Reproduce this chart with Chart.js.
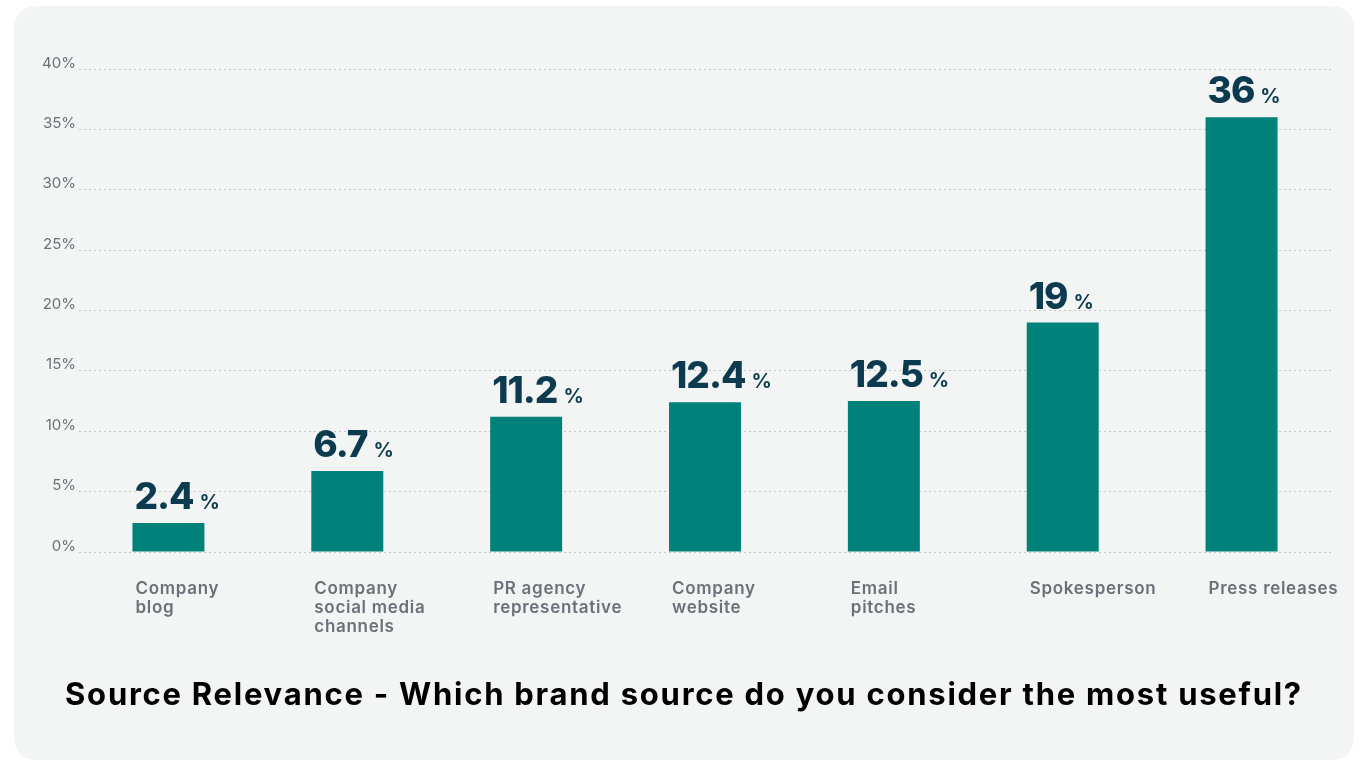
<!DOCTYPE html>
<html>
<head>
<meta charset="utf-8">
<script src="https://cdn.jsdelivr.net/npm/chart.js@4.4.1/dist/chart.umd.min.js"></script>
<style>
  html, body { margin: 0; padding: 0; background: #ffffff; }
  #wrap { width: 1363px; height: 761px; position: relative; }
</style>
</head>
<body>
<div id="wrap"><canvas id="c"></canvas></div>
<script>
const categories = [
  ['Company', 'blog'],
  ['Company', 'social media', 'channels'],
  ['PR agency', 'representative'],
  ['Company', 'website'],
  ['Email', 'pitches'],
  ['Spokesperson'],
  ['Press releases']
];
const values = [2.4, 6.7, 11.2, 12.4, 12.5, 19, 36];
const valueLabels = ['2.4', '6.7', '11.2', '12.4', '12.5', '19', '36'];
const yTicks = [0, 5, 10, 15, 20, 25, 30, 35, 40];
const titleText = 'Source Relevance - Which brand source do you consider the most useful?';

const FONT = 'Inter, "Open Sans", "DejaVu Sans", sans-serif';

const panelPlugin = {
  id: 'panel',
  beforeDraw(chart) {
    const ctx = chart.ctx;
    ctx.save();
    ctx.fillStyle = '#f3f5f4';
    const x = 14, y = 6, w = 1340, h = 754, r = 24;
    ctx.beginPath();
    ctx.moveTo(x + r, y);
    ctx.lineTo(x + w - r, y);
    ctx.quadraticCurveTo(x + w, y, x + w, y + r);
    ctx.lineTo(x + w, y + h - r);
    ctx.quadraticCurveTo(x + w, y + h, x + w - r, y + h);
    ctx.lineTo(x + r, y + h);
    ctx.quadraticCurveTo(x, y + h, x, y + h - r);
    ctx.lineTo(x, y + r);
    ctx.quadraticCurveTo(x, y, x + r, y);
    ctx.closePath();
    ctx.fill();
    ctx.restore();
  }
};

const labelsPlugin = {
  id: 'customLabels',
  afterDatasetsDraw(chart) {
    const ctx = chart.ctx;
    const meta = chart.getDatasetMeta(0);
    ctx.save();
    meta.data.forEach((bar, i) => {
      const left = bar.x - bar.width / 2;
      // value label
      ctx.textBaseline = 'alphabetic';
      ctx.textAlign = 'left';
      ctx.fillStyle = '#0c3b50';
      ctx.font = '800 37px ' + FONT;
      ctx.letterSpacing = '-1px';
      const txt = valueLabels[i];
      const tx = left + 2;
      const ty = bar.y - 14;
      ctx.fillText(txt, tx, ty);
      const w = ctx.measureText(txt).width;
      ctx.font = '700 20px ' + FONT;
      ctx.letterSpacing = '0px';
      ctx.fillText('%', tx + w + 6, ty);
      // category label
      ctx.fillStyle = '#6b7079';
      ctx.font = '600 17px ' + FONT;
      ctx.letterSpacing = '0.7px';
      const lines = categories[i];
      const baseY = chart.scales.y.getPixelForValue(0) + 42;
      lines.forEach((ln, k) => {
        ctx.fillText(ln, left + 3, baseY + k * 19);
      });
    });
    // title
    ctx.fillStyle = '#000000';
    ctx.textAlign = 'center';
    ctx.font = '700 31px ' + FONT;
    ctx.letterSpacing = '1.75px';
    ctx.fillText(titleText, 684, 705);
    ctx.restore();
  }
};

new Chart(document.getElementById('c'), {
  type: 'bar',
  data: {
    labels: categories.map(c => c.join(' ')),
    datasets: [{
      data: values,
      backgroundColor: '#00827a',
      borderWidth: 0,
      barPercentage: 0.8,
      categoryPercentage: 0.503
    }]
  },
  options: {
    responsive: true,
    maintainAspectRatio: false,
    animation: false,
    layout: { padding: { left: 0, right: 32, top: 69, bottom: 201 } },
    plugins: {
      legend: { display: false },
      tooltip: { enabled: false },
      title: { display: false }
    },
    scales: {
      x: {
        grid: { display: false },
        border: { display: false },
        ticks: { display: false }
      },
      y: {
        min: 0,
        max: 40,
        afterFit(scale) { scale.width = 79; },
        afterBuildTicks(scale) { scale.ticks = yTicks.map(v => ({ value: v })); },
        grid: {
          color: '#c4c7c6',
          lineWidth: 1,
          drawTicks: false
        },
        border: { display: false, dash: [2, 3] },
        ticks: {
          padding: 3,
          labelOffset: -6,
          color: '#6b7079',
          font: { family: FONT, size: 15 },
          callback: (v) => v + '%'
        }
      }
    }
  },
  plugins: [panelPlugin, labelsPlugin]
});
</script>
</body>
</html>
